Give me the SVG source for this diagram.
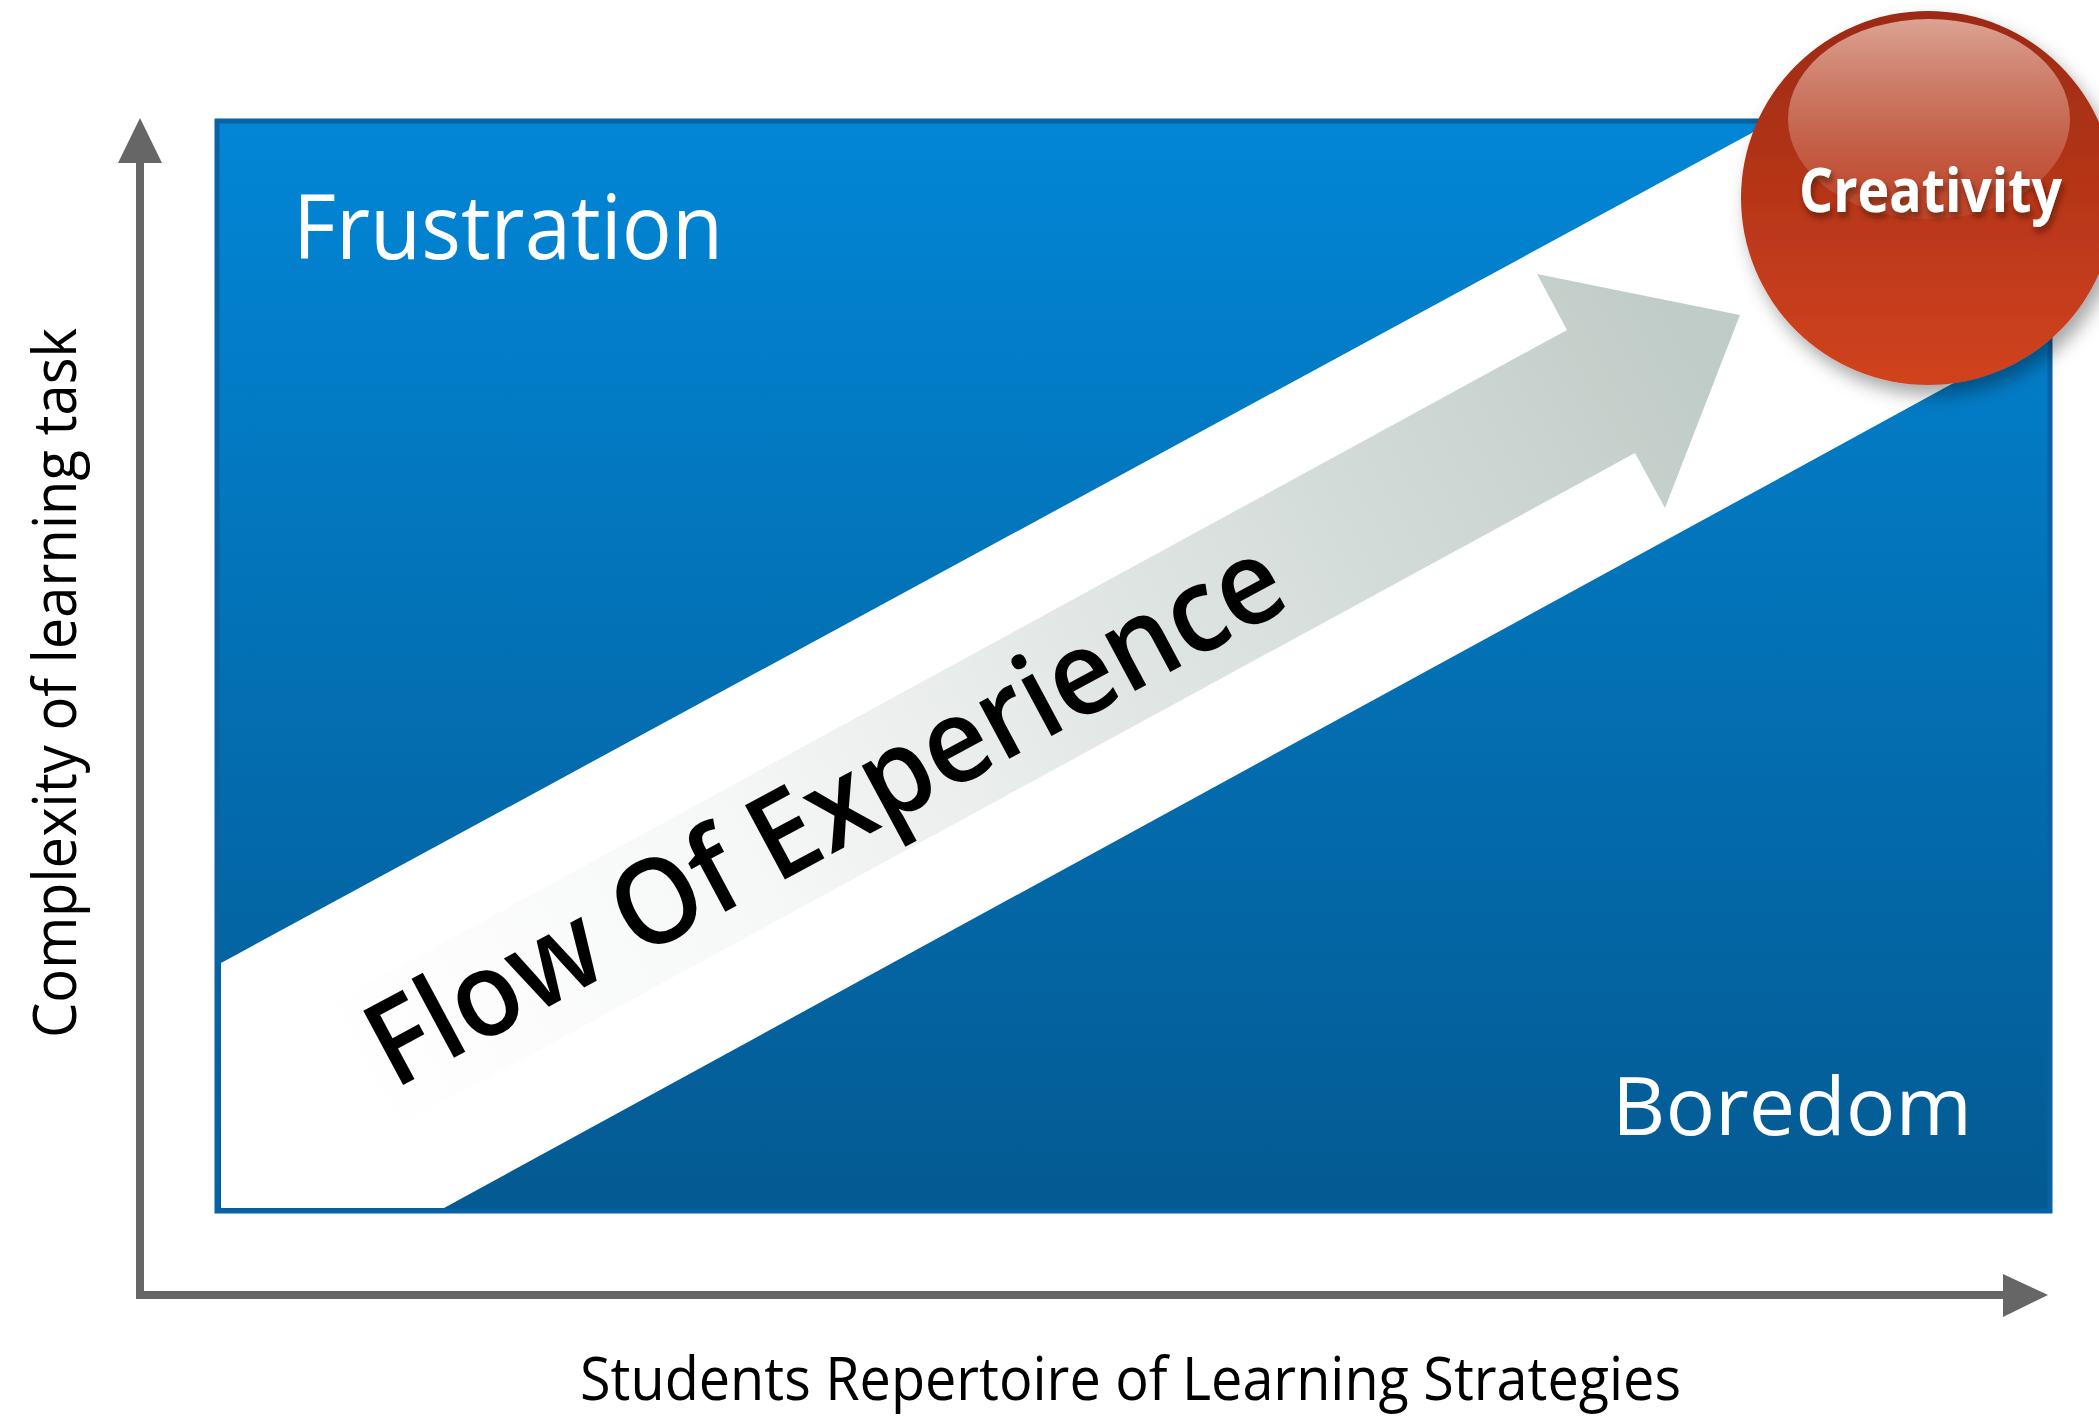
<svg xmlns="http://www.w3.org/2000/svg" width="2099" height="1417" viewBox="0 0 2099 1417">
<style>
.lbl{font-family:"Open Sans","Noto Sans","Liberation Sans",sans-serif;}
.white{fill:#ffffff;}
.zone{font-weight:500;}
.axisTxt{fill:#000000;font-size:60px;}
.axis{fill:none;stroke:#666666;stroke-width:8;stroke-linejoin:miter;}
.head{fill:#666666;}
</style>
<defs>
<linearGradient id="boxGrad" x1="0" y1="0" x2="0" y2="1">
<stop offset="0" stop-color="#0286d6"/>
<stop offset="1" stop-color="#045a92"/>
</linearGradient>
<linearGradient id="arrowGrad" gradientUnits="userSpaceOnUse" x1="360" y1="1110" x2="1700" y2="360">
<stop offset="0" stop-color="#ffffff"/>
<stop offset="0.3" stop-color="#f6f7f7"/>
<stop offset="1" stop-color="#c0ccc7"/>
</linearGradient>
<linearGradient id="ballGrad" x1="0" y1="0" x2="0" y2="1">
<stop offset="0" stop-color="#9c2a12"/>
<stop offset="0.5" stop-color="#b73619"/>
<stop offset="1" stop-color="#d1431e"/>
</linearGradient>
<linearGradient id="hiGrad" x1="0" y1="0" x2="0" y2="1">
<stop offset="0" stop-color="#e8b8a8" stop-opacity="0.85"/>
<stop offset="1" stop-color="#e09080" stop-opacity="0.15"/>
</linearGradient>
<filter id="ballShadow" x="-30%" y="-30%" width="160%" height="160%">
<feDropShadow dx="6" dy="10" stdDeviation="9" flood-color="#000000" flood-opacity="0.35"/>
</filter>
<filter id="txtShadow" x="-10%" y="-30%" width="120%" height="180%">
<feDropShadow dx="2" dy="5" stdDeviation="3" flood-color="#3a0a00" flood-opacity="0.6"/>
</filter>
</defs>

<g id="background-box">
<rect x="217" y="121" width="1833" height="1090" fill="url(#boxGrad)" stroke="#0962a4" stroke-width="5"/>
</g>

<g id="flow-band">
<polygon points="221,963 1772,122 2047,122 2047,332 444,1208 221,1208" fill="#ffffff"/>
</g>

<g id="flow-arrow">
<polygon points="300,1021 1567,330 1537,274 1740,315 1665,508 1635,453 367,1144" fill="url(#arrowGrad)"/>
<text class="lbl" transform="translate(394,1090) rotate(-28.3)" x="0" y="0" font-size="118" font-weight="600" fill="#000000" textLength="1022" lengthAdjust="spacingAndGlyphs">Flow Of Experience</text>
</g>

<g id="frustration">
<text class="lbl white zone" x="293" y="259" font-size="90" textLength="430" lengthAdjust="spacingAndGlyphs">Frustration</text>
</g>

<g id="boredom">
<text class="lbl white zone" x="1612" y="1135" font-size="81" textLength="360" lengthAdjust="spacingAndGlyphs">Boredom</text>
</g>

<g id="creativity">
<circle cx="1928" cy="198" r="187" fill="url(#ballGrad)" filter="url(#ballShadow)"/>
<ellipse cx="1929" cy="119" rx="141" ry="100" fill="url(#hiGrad)"/>
<text class="lbl white" x="1799" y="212" font-size="60" font-weight="700" textLength="263" lengthAdjust="spacingAndGlyphs" filter="url(#txtShadow)">Creativity</text>
</g>

<g id="connectors">
<path class="axis" d="M140,163 L140,1295 L2003,1295"/>
<polygon class="head" points="118,163 140,118 162,163"/>
<polygon class="head" points="2003,1274 2048,1295 2003,1317"/>
</g>

<g id="y-label">
<text class="lbl axisTxt" transform="translate(76,1038) rotate(-90)" x="0" y="0" textLength="710" lengthAdjust="spacingAndGlyphs">Complexity of learning task</text>
</g>

<g id="x-label">
<text class="lbl axisTxt" x="580" y="1400" textLength="1101" lengthAdjust="spacingAndGlyphs">Students Repertoire of Learning Strategies</text>
</g>
</svg>
